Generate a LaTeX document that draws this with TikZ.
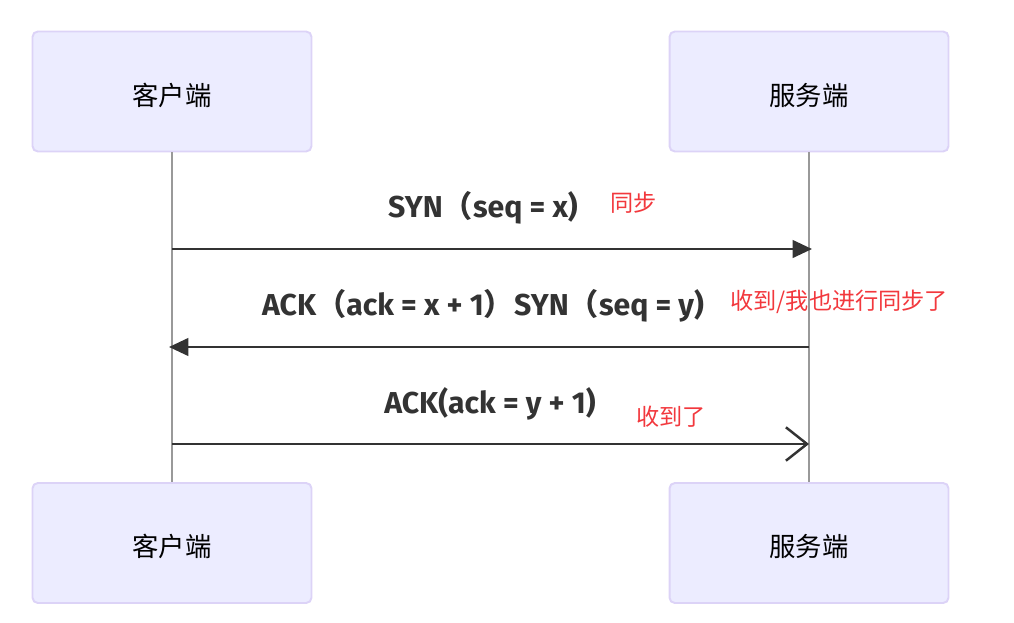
\documentclass[tikz,border=0pt]{standalone}
\usepackage{fontspec}
\setmainfont{Fira Sans}
\newfontfamily\cjk{Noto Sans CJK SC}
\usetikzlibrary{arrows.meta}
\definecolor{actorfill}{HTML}{ECECFF}
\definecolor{actorline}{HTML}{DCD3F7}
\definecolor{msgtext}{HTML}{333333}
\definecolor{notered}{HTML}{F2383D}
\newcommand{\fwl}{{\cjk （}}
\newcommand{\fwr}{{\cjk ）}}
\begin{document}
\begin{tikzpicture}[x=0.02cm, y=-0.02cm,
    actor/.style = {draw=actorline, fill=actorfill, line width=1.1pt, rounded corners=3pt,
        minimum width=5.58cm, minimum height=2.40cm, text height=16pt, text depth=0.6pt,
        font=\cjk\fontsize{15}{17}\selectfont},
    lifeline/.style = {draw=black!40, line width=0.6pt},
    msg/.style = {draw=msgtext, line width=1.4pt},
    msglabel/.style = {text=msgtext, font=\bfseries\fontsize{17.2}{20}\selectfont, inner sep=0pt},
    notelabel/.style = {text=notered, anchor=west, inner sep=0pt, font=\cjk\fontsize{13.2}{15}\selectfont}]
    \useasboundingbox (0,0) rectangle (1014,622);
    \node[actor] (cli) at (172,91.5) {客户端};
    \node[actor] (srv) at (809,91.5) {服务端};
    \node[actor] (cli2) at (172,543) {客户端};
    \node[actor] (srv2) at (809,543) {服务端};
    \draw[lifeline] (cli) -- (cli2);
    \draw[lifeline] (srv) -- (srv2);
    % message ends on the lifelines
    \coordinate (c1) at (172,249);
    \coordinate (s1) at (812,249);
    \coordinate (s2) at (809,347);
    \coordinate (c2) at (169,347);
    \coordinate (c3) at (172,444);
    \coordinate (s3) at (809,444);
    \draw[msg, -{Triangle[length=11pt, width=10pt]}] (c1) -- (s1);
    \draw[msg, -{Triangle[length=11pt, width=10pt]}] (s2) -- (c2);
    \draw[msg, -{Straight Barb[length=12pt, width=19pt]}] (c3) -- (s3);
    \node[msglabel] (m1) at (483,208) {SYN\fwl seq = x)};
    \node[msglabel] (m2) at (483,306) {ACK\fwl ack = x + 1\fwr SYN\fwl seq = y)};
    \node[msglabel] (m3) at (490,404) {ACK(ack = y + 1)};
    \node[notelabel] (n1) at (610,203) {同步};
    \node[notelabel] (n2) at (730,302) {收到/我也进行同步了};
    \node[notelabel] (n3) at (636,417) {收到了};
\end{tikzpicture}
\end{document}
